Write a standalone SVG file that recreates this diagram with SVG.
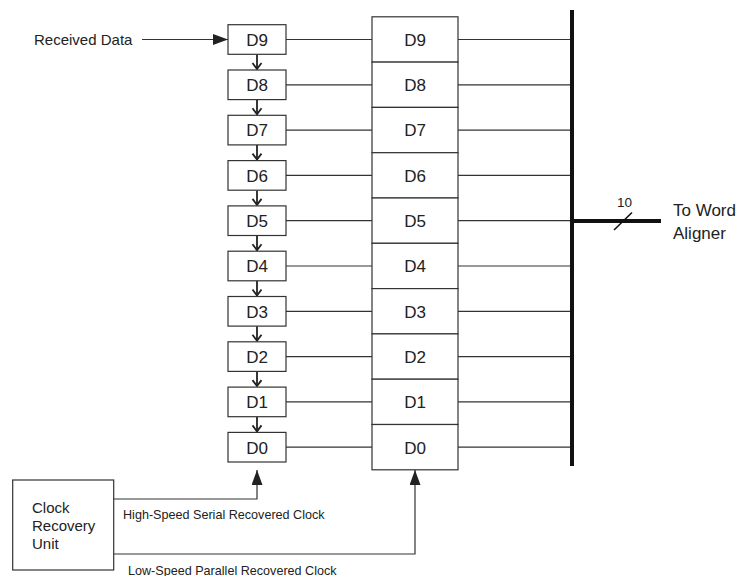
<svg xmlns="http://www.w3.org/2000/svg" width="740" height="576" viewBox="0 0 740 576">
<style>
text{font-family:"Liberation Sans",Arial,sans-serif;fill:#222}
.box{fill:#fff;stroke:#333;stroke-width:1.2}
.lbl{font-size:17px;text-anchor:middle}
.ln{stroke:#333;stroke-width:1.2;fill:none}
.ch{stroke:#222;stroke-width:1.8;fill:none}
.sm{font-size:12.6px}
</style>
<defs>
<marker id="ah2" markerWidth="15" markerHeight="11" refX="15" refY="5.5" orient="auto" markerUnits="userSpaceOnUse" viewBox="0 0 15 11"><path d="M0,0 L15,5.5 L0,11 z" fill="#222"/></marker>
</defs>
<g id="connectors">
<line class="ln" x1="142" y1="39.5" x2="228" y2="39.5" marker-end="url(#ah2)"/>
<g id="shift-links">
<line class="ln" x1="286" y1="39.5" x2="372" y2="39.5"/>
<line class="ln" x1="286" y1="84.8" x2="372" y2="84.8"/>
<line class="ln" x1="286" y1="130.1" x2="372" y2="130.1"/>
<line class="ln" x1="286" y1="175.4" x2="372" y2="175.4"/>
<line class="ln" x1="286" y1="220.7" x2="372" y2="220.7"/>
<line class="ln" x1="286" y1="266" x2="372" y2="266"/>
<line class="ln" x1="286" y1="311.3" x2="372" y2="311.3"/>
<line class="ln" x1="286" y1="356.6" x2="372" y2="356.6"/>
<line class="ln" x1="286" y1="401.9" x2="372" y2="401.9"/>
<line class="ln" x1="286" y1="447.2" x2="372" y2="447.2"/>
</g>
<g id="bus-links">
<line class="ln" x1="458" y1="39.5" x2="572" y2="39.5"/>
<line class="ln" x1="458" y1="84.8" x2="572" y2="84.8"/>
<line class="ln" x1="458" y1="130.1" x2="572" y2="130.1"/>
<line class="ln" x1="458" y1="175.4" x2="572" y2="175.4"/>
<line class="ln" x1="458" y1="220.7" x2="572" y2="220.7"/>
<line class="ln" x1="458" y1="266" x2="572" y2="266"/>
<line class="ln" x1="458" y1="311.3" x2="572" y2="311.3"/>
<line class="ln" x1="458" y1="356.6" x2="572" y2="356.6"/>
<line class="ln" x1="458" y1="401.9" x2="572" y2="401.9"/>
<line class="ln" x1="458" y1="447.2" x2="572" y2="447.2"/>
</g>
<g id="shift-arrows">
<line class="ch" x1="257" y1="54.5" x2="257" y2="69"/><polyline class="ch" points="252.5,63 257,69 261.5,63"/>
<line class="ch" x1="257" y1="99.8" x2="257" y2="114.3"/><polyline class="ch" points="252.5,108.3 257,114.3 261.5,108.3"/>
<line class="ch" x1="257" y1="145.1" x2="257" y2="159.6"/><polyline class="ch" points="252.5,153.6 257,159.6 261.5,153.6"/>
<line class="ch" x1="257" y1="190.4" x2="257" y2="204.9"/><polyline class="ch" points="252.5,198.9 257,204.9 261.5,198.9"/>
<line class="ch" x1="257" y1="235.7" x2="257" y2="250.2"/><polyline class="ch" points="252.5,244.2 257,250.2 261.5,244.2"/>
<line class="ch" x1="257" y1="281" x2="257" y2="295.5"/><polyline class="ch" points="252.5,289.5 257,295.5 261.5,289.5"/>
<line class="ch" x1="257" y1="326.3" x2="257" y2="340.8"/><polyline class="ch" points="252.5,334.8 257,340.8 261.5,334.8"/>
<line class="ch" x1="257" y1="371.6" x2="257" y2="386.1"/><polyline class="ch" points="252.5,380.1 257,386.1 261.5,380.1"/>
<line class="ch" x1="257" y1="416.9" x2="257" y2="431.4"/><polyline class="ch" points="252.5,425.4 257,431.4 261.5,425.4"/>
</g>
<polyline class="ln" points="114,499 257,499 257,470" marker-end="url(#ah2)"/>
<polyline class="ln" points="114,554 415,554 415,470" marker-end="url(#ah2)"/>
<line x1="572" y1="10" x2="572" y2="466" stroke="#111" stroke-width="4"/>
<line x1="572" y1="221" x2="661" y2="221" stroke="#111" stroke-width="4"/>
<line x1="614" y1="230" x2="632" y2="212.5" stroke="#111" stroke-width="1.6"/>
</g>
<g id="received-data"><text x="34" y="44.5" font-size="15">Received Data</text></g>
<g id="shift-register">
<g id="s9"><rect class="box" x="228" y="24.7" width="58" height="29.6"/><text class="lbl" x="257" y="45.8">D9</text></g>
<g id="s8"><rect class="box" x="228" y="70" width="58" height="29.6"/><text class="lbl" x="257" y="91.1">D8</text></g>
<g id="s7"><rect class="box" x="228" y="115.3" width="58" height="29.6"/><text class="lbl" x="257" y="136.4">D7</text></g>
<g id="s6"><rect class="box" x="228" y="160.6" width="58" height="29.6"/><text class="lbl" x="257" y="181.7">D6</text></g>
<g id="s5"><rect class="box" x="228" y="205.9" width="58" height="29.6"/><text class="lbl" x="257" y="227">D5</text></g>
<g id="s4"><rect class="box" x="228" y="251.2" width="58" height="29.6"/><text class="lbl" x="257" y="272.3">D4</text></g>
<g id="s3"><rect class="box" x="228" y="296.5" width="58" height="29.6"/><text class="lbl" x="257" y="317.6">D3</text></g>
<g id="s2"><rect class="box" x="228" y="341.8" width="58" height="29.6"/><text class="lbl" x="257" y="362.9">D2</text></g>
<g id="s1"><rect class="box" x="228" y="387.1" width="58" height="29.6"/><text class="lbl" x="257" y="408.2">D1</text></g>
<g id="s0"><rect class="box" x="228" y="432.4" width="58" height="29.6"/><text class="lbl" x="257" y="453.5">D0</text></g>
</g>
<g id="parallel-register">
<g id="p9"><rect class="box" x="372" y="16.8" width="86" height="45.3"/><text class="lbl" x="415" y="45.8">D9</text></g>
<g id="p8"><rect class="box" x="372" y="62.1" width="86" height="45.3"/><text class="lbl" x="415" y="91.1">D8</text></g>
<g id="p7"><rect class="box" x="372" y="107.4" width="86" height="45.3"/><text class="lbl" x="415" y="136.4">D7</text></g>
<g id="p6"><rect class="box" x="372" y="152.7" width="86" height="45.3"/><text class="lbl" x="415" y="181.7">D6</text></g>
<g id="p5"><rect class="box" x="372" y="198" width="86" height="45.3"/><text class="lbl" x="415" y="227">D5</text></g>
<g id="p4"><rect class="box" x="372" y="243.3" width="86" height="45.3"/><text class="lbl" x="415" y="272.3">D4</text></g>
<g id="p3"><rect class="box" x="372" y="288.6" width="86" height="45.3"/><text class="lbl" x="415" y="317.6">D3</text></g>
<g id="p2"><rect class="box" x="372" y="333.9" width="86" height="45.3"/><text class="lbl" x="415" y="362.9">D2</text></g>
<g id="p1"><rect class="box" x="372" y="379.2" width="86" height="45.3"/><text class="lbl" x="415" y="408.2">D1</text></g>
<g id="p0"><rect class="box" x="372" y="424.5" width="86" height="45.3"/><text class="lbl" x="415" y="453.5">D0</text></g>
</g>
<g id="clock-recovery">
<rect class="box" x="12.7" y="480" width="101" height="90"/>
<text x="32" y="512.5" font-size="15">Clock</text>
<text x="32" y="530.5" font-size="15">Recovery</text>
<text x="32" y="548.5" font-size="15">Unit</text>
</g>
<g id="clock-labels">
<text class="sm" x="123" y="518.5">High-Speed Serial Recovered Clock</text>
<text class="sm" x="128" y="574.5">Low-Speed Parallel Recovered Clock</text>
</g>
<g id="output">
<text x="617" y="206.5" font-size="13.5">10</text>
<text x="673" y="216" font-size="17">To Word</text>
<text x="673" y="238.5" font-size="17">Aligner</text>
</g>
</svg>
